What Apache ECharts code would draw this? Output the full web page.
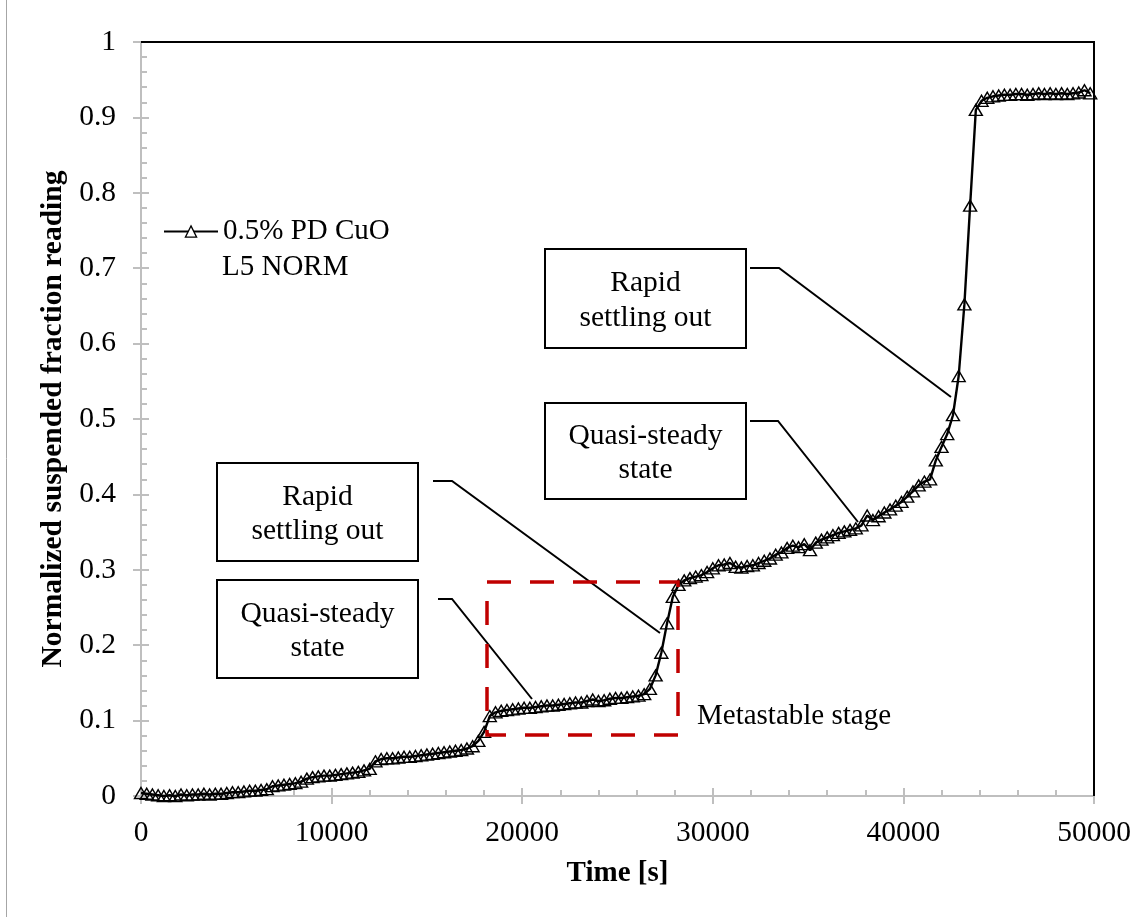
<!DOCTYPE html>
<html>
<head>
<meta charset="utf-8">
<script src="https://cdn.jsdelivr.net/npm/echarts@6/dist/echarts.min.js"></script>
<style>
  html, body { margin: 0; padding: 0; background: #fff; }
  #chart { width: 1138px; height: 917px; }
</style>
</head>
<body>
<div id="chart"></div>
<script>
// Sampling times [s]
const times = [
  0, 300, 600, 900, 1200, 1500, 1800, 2100, 2400, 2700,
  3000, 3300, 3600, 3900, 4200, 4500, 4800, 5100, 5400, 5700,
  6000, 6300, 6600, 6900, 7200, 7500, 7800, 8100, 8400, 8700,
  9000, 9300, 9600, 9900, 10200, 10500, 10800, 11100, 11400, 11700,
  12000, 12300, 12600, 12900, 13200, 13500, 13800, 14100, 14400, 14700,
  15000, 15300, 15600, 15900, 16200, 16500, 16800, 17100, 17400, 17700,
  18000, 18300, 18600, 18900, 19200, 19500, 19800, 20100, 20400, 20700,
  21000, 21300, 21600, 21900, 22200, 22500, 22800, 23100, 23400, 23700,
  24000, 24300, 24600, 24900, 25200, 25500, 25800, 26100, 26400, 26700,
  27000, 27300, 27600, 27900, 28200, 28500, 28800, 29100, 29400, 29700,
  30000, 30300, 30600, 30900, 31200, 31500, 31800, 32100, 32400, 32700,
  33000, 33300, 33600, 33900, 34200, 34500, 34800, 35100, 35400, 35700,
  36000, 36300, 36600, 36900, 37200, 37500, 37800, 38100, 38400, 38700,
  39000, 39300, 39600, 39900, 40200, 40500, 40800, 41100, 41400, 41700,
  42000, 42300, 42600, 42900, 43200, 43500, 43800, 44100, 44400, 44700,
  45000, 45300, 45600, 45900, 46200, 46500, 46800, 47100, 47400, 47700,
  48000, 48300, 48600, 48900, 49200, 49500, 49800
];

// Normalized suspended fraction reading (0.5% PD CuO, L5 NORM)
const fraction = [
  0.004, 0.003, 0.002, 0.001, 0.000, 0.001, 0.000, 0.002, 0.001, 0.002,
  0.002, 0.003, 0.002, 0.003, 0.003, 0.004, 0.005, 0.005, 0.006, 0.007,
  0.007, 0.008, 0.009, 0.013, 0.014, 0.015, 0.016, 0.017, 0.019, 0.023,
  0.025, 0.026, 0.027, 0.027, 0.028, 0.029, 0.030, 0.031, 0.032, 0.034,
  0.036, 0.046, 0.049, 0.050, 0.050, 0.051, 0.052, 0.052, 0.053, 0.054,
  0.055, 0.056, 0.057, 0.058, 0.059, 0.060, 0.061, 0.063, 0.066, 0.073,
  0.085, 0.106, 0.111, 0.113, 0.114, 0.115, 0.116, 0.117, 0.117, 0.118,
  0.119, 0.120, 0.120, 0.121, 0.122, 0.123, 0.124, 0.124, 0.126, 0.128,
  0.126, 0.127, 0.129, 0.130, 0.130, 0.131, 0.132, 0.133, 0.135, 0.142,
  0.160, 0.190, 0.229, 0.264, 0.280, 0.286, 0.289, 0.291, 0.293, 0.297,
  0.302, 0.306, 0.307, 0.309, 0.304, 0.303, 0.305, 0.306, 0.309, 0.312,
  0.315, 0.320, 0.323, 0.329, 0.332, 0.330, 0.334, 0.326, 0.336, 0.340,
  0.343, 0.346, 0.349, 0.351, 0.353, 0.355, 0.359, 0.372, 0.366, 0.371,
  0.376, 0.380, 0.385, 0.390, 0.397, 0.404, 0.412, 0.417, 0.420, 0.445,
  0.463, 0.480, 0.505, 0.557, 0.652, 0.783, 0.910, 0.922, 0.926, 0.928,
  0.929, 0.930, 0.930, 0.931, 0.931, 0.930, 0.931, 0.932, 0.931, 0.932,
  0.931, 0.932, 0.931, 0.932, 0.933, 0.936, 0.932
];

const seriesName = '0.5% PD CuO L5 NORM';
const xTitle = 'Time [s]';
const yTitle = 'Normalized suspended fraction reading';

const FONT = '"Liberation Serif", "Times New Roman", serif';
const AXIS_GRAY = '#bfbfbf';
const points = times.map((t, i) => [t, fraction[i]]);

// Plot-area edges in pixels (grid below)
const G = { left: 141, top: 42, right: 1094, bottom: 796 };

function textBox(x, y, w, h, text, lh) {
  return [
    { type: 'rect', shape: { x: x, y: y, width: w, height: h },
      style: { fill: '#fff', stroke: '#000', lineWidth: 2 }, z: 100 },
    { type: 'text', x: x + w / 2, y: y + h / 2 + 2, z: 101,
      style: { text: text, fill: '#000', font: '29.5px ' + FONT, lineHeight: lh,
               align: 'center', verticalAlign: 'middle' } }
  ];
}
function leader(pts) {
  return { type: 'polyline', z: 100, shape: { points: pts },
           style: { stroke: '#000', lineWidth: 2, fill: null } };
}

const chart = echarts.init(document.getElementById('chart'), null, { renderer: 'canvas' });

const graphics = [].concat(
  // chart outer frame (left edge)
  [{ type: 'line', shape: { x1: 6.5, y1: 0, x2: 6.5, y2: 917 }, style: { stroke: '#a6a6a6', lineWidth: 1 } }],
  // top and right frame of plot area
  [{ type: 'polyline', z: 50, shape: { points: [[G.left, G.top], [G.right, G.top], [G.right, G.bottom]] },
     style: { stroke: '#000', lineWidth: 2, fill: null } }],
  textBox(545, 249, 201, 99, 'Rapid\nsettling out', 35),
  textBox(545, 403, 201, 96, 'Quasi-steady\nstate', 34),
  textBox(217, 463, 201, 98, 'Rapid\nsettling out', 34),
  textBox(217, 580, 201, 98, 'Quasi-steady\nstate', 34),
  [
    leader([[750, 268], [779, 268], [951, 397]]),
    leader([[750, 421], [778, 421], [858, 522]]),
    leader([[433, 481], [452, 481], [660, 633]]),
    leader([[438, 599], [452, 599], [532, 699]]),
    { type: 'rect', z: 100, shape: { x: 487, y: 582, width: 191, height: 153 },
      style: { fill: null, stroke: '#c00000', lineWidth: 3.5, lineDash: [24, 19] } },
    { type: 'text', x: 697, y: 716, z: 101,
      style: { text: 'Metastable stage', fill: '#000', font: '29px ' + FONT,
               align: 'left', verticalAlign: 'middle' } },
    { type: 'text', x: 222, y: 267, z: 101,
      style: { text: 'L5 NORM', fill: '#000', font: '29px ' + FONT,
               align: 'left', verticalAlign: 'middle' } }
  ]
);

const tickStyle = { color: AXIS_GRAY, width: 2 };

const option = {
  backgroundColor: '#fff',
  animation: false,
  grid: { left: G.left, top: G.top, right: 1138 - G.right, bottom: 917 - G.bottom, containLabel: false },
  legend: {
    left: 163, top: 216, padding: 0,
    itemWidth: 54, itemHeight: 14, itemGap: 0,
    formatter: () => '0.5% PD CuO',
    textStyle: { fontFamily: FONT, fontSize: 29, color: '#000', lineHeight: 31, padding: [0, 0, 0, 0] },
    itemStyle: { color: '#fff', borderColor: '#000', borderWidth: 1.3 },
    data: [seriesName]
  },
  xAxis: [
    {
      type: 'value', min: 0, max: 50000, interval: 10000,
      name: xTitle, nameLocation: 'middle', nameGap: 63,
      nameTextStyle: { fontFamily: FONT, fontSize: 29, fontWeight: 'bold', color: '#000' },
      axisLine: { show: true, lineStyle: { color: AXIS_GRAY, width: 2 } },
      axisTick: { show: true, inside: true, length: 8, lineStyle: tickStyle },
      minorTick: { show: true, splitNumber: 5, length: 6, lineStyle: tickStyle },
      splitLine: { show: false },
      axisLabel: { margin: 22, fontFamily: FONT, fontSize: 29.5, color: '#000', formatter: v => String(v) }
    },
    {
      type: 'value', min: 0, max: 50000, interval: 10000, position: 'bottom',
      axisLine: { show: false },
      axisTick: { show: true, inside: false, length: 8, lineStyle: tickStyle },
      axisLabel: { show: false }, splitLine: { show: false }
    }
  ],
  yAxis: [
    {
      type: 'value', min: 0, max: 1, interval: 0.1,
      name: yTitle, nameLocation: 'middle', nameGap: 66, nameRotate: 90,
      nameTextStyle: { fontFamily: FONT, fontSize: 29.5, fontWeight: 'bold', color: '#000' },
      axisLine: { show: true, lineStyle: { color: AXIS_GRAY, width: 2 } },
      axisTick: { show: true, inside: true, length: 8, lineStyle: tickStyle },
      minorTick: { show: true, splitNumber: 5, length: 6, lineStyle: tickStyle },
      splitLine: { show: false },
      axisLabel: { margin: 25, fontFamily: FONT, fontSize: 29.5, color: '#000', formatter: v => String(Math.round(v * 10) / 10) }
    },
    {
      type: 'value', min: 0, max: 1, interval: 0.1, position: 'left',
      axisLine: { show: false },
      axisTick: { show: true, inside: false, length: 8, lineStyle: tickStyle },
      axisLabel: { show: false }, splitLine: { show: false }
    }
  ],
  series: [
    {
      name: seriesName,
      type: 'line',
      xAxisIndex: 0, yAxisIndex: 0,
      data: points,
      symbol: 'triangle',
      symbolSize: [13, 11],
      showAllSymbol: true,
      lineStyle: { color: '#000', width: 2.4 },
      itemStyle: { color: 'rgba(255,255,255,0)', borderColor: '#000', borderWidth: 1.4 },
      z: 10
    }
  ],
  graphic: graphics
};

chart.setOption(option);
</script>
</body>
</html>
